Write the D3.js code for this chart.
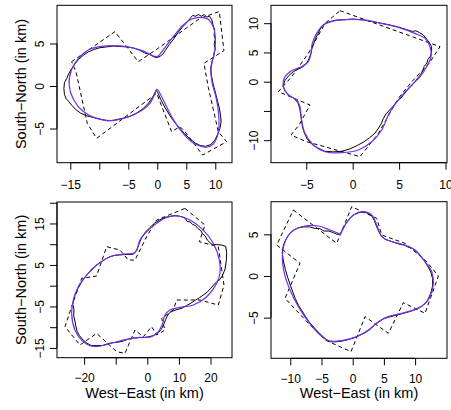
<!DOCTYPE html>
<meta charset="utf-8">
<script src="https://d3js.org/d3.v7.min.js"></script>
<style>
  body { margin: 0; background: #fff; }
  svg text { font-family: 'Liberation Sans', Arial, sans-serif; fill: #000; }
  .tick text { font-size: 12px; }
  .lab { font-size: 14.5px; }
  .domain, .tick line { stroke: #000; }
</style>
<body>
<div id="chart"></div>
<script>

// panel 1 (top left)
var p1Smooth = [[1.03,4.24],[2.76,5.8],[4.48,7.18],[5.92,7.88],[7.36,8.08],[8.8,7.84],[9.66,6.98],[10.0,5.8],[9.94,4.24],[9.54,3.06],[9.25,1.88],[9.48,0.31],[10.1,-1.25],[10.57,-3.2],[10.63,-4.8],[10.34,-5.96],[9.66,-6.82],[8.5,-7.2],[7.36,-7.06],[5.9,-6.55],[4.2,-5.37],[2.47,-3.6],[1.03,-1.65],[0.17,-0.55],[-0.1,-0.4],[-0.4,-0.86],[-1.26,-2.04],[-3.0,-3.0],[-5.3,-3.7],[-7.9,-4.08],[-10.5,-3.8],[-12.76,-3.0],[-14.4,-1.65],[-15.2,0.12],[-14.8,1.88],[-13.6,3.25],[-11.9,4.24],[-9.9,4.63],[-7.6,4.75],[-5.3,4.63],[-3.0,4.24],[-1.26,3.73],[-0.4,3.45],[0.17,3.53],[0.57,3.84]];
var p1Raw = [[0.5,3.5],[0,3.35],[-0.5,3.4],[-1.3,3.7],[-2.2,3.9],[-3.0,4.2],[-4.0,4.45],[-5.3,4.6],[-6.5,4.65],[-7.6,4.7],[-8.7,4.6],[-9.9,4.5],[-10.9,4.3],[-11.9,4.0],[-12.8,3.6],[-13.6,3.1],[-14.2,2.6],[-14.8,2.0],[-15.3,1.4],[-15.6,0.9],[-16.0,0.4],[-16.1,-0.3],[-16.0,-1.0],[-15.7,-1.5],[-15.3,-1.8],[-14.7,-2.3],[-14.0,-2.8],[-13.2,-3.2],[-12.2,-3.5],[-11.0,-3.7],[-9.8,-3.9],[-8.5,-4.1],[-7.3,-4.0],[-6.0,-3.8],[-4.8,-3.6],[-3.6,-3.2],[-2.5,-2.7],[-1.5,-2.0],[-0.7,-1.2],[-0.2,-0.5],[0.1,-0.8],[0.6,-1.6],[1.3,-2.5],[2.1,-3.4],[2.9,-4.2],[3.8,-4.9],[4.7,-5.6],[5.6,-6.2],[6.5,-6.7],[7.4,-7.0],[8.3,-7.1],[9.2,-6.9],[9.9,-6.4],[10.4,-5.7],[10.8,-5.0],[11.0,-4.2],[10.9,-3.4],[10.7,-2.6],[10.4,-1.8],[10.1,-1.0],[9.8,-0.2],[9.5,0.6],[9.3,1.4],[9.2,2.1],[9.4,2.8],[9.7,3.4],[9.8,3.9],[10.0,4.4],[9.8,4.9],[10.0,5.5],[9.8,6.0],[9.9,6.6],[9.6,7.2],[9.4,7.8],[9.0,8.2],[8.5,8.1],[8.1,8.4],[7.6,8.2],[7.1,8.4],[6.6,8.2],[6.1,8.3],[5.6,7.9],[5.0,7.4],[4.3,6.9],[3.6,6.3],[2.9,5.6],[2.1,4.9],[1.4,4.2],[0.9,3.7]];
var p1Dash = [[-14.77,2.86],[-7.30,6.39],[-3.28,2.86],[-0.11,4.31],[7.36,7.96],[10.69,8.75],[11.49,4.16],[8.05,2.67],[8.79,-0.16],[10.52,-5.37],[11.95,-6.55],[7.82,-8.12],[4.77,-5.37],[3.91,-4.78],[2.47,-5.37],[-0.11,-0.86],[-10.46,-6.16],[-12.07,-4.39],[-14.02,1.69]];
var p1XTicks = [-15, -10, -5, 0, 5, 10];
var p1XLabels = ["\u221215", "", "\u22125", "0", "5", "10"];
var p1YTicks = [-5, 0, 5];
var p1YLabels = ["\u22125", "0", "5"];

// panel 2 (top right)
var p2Smooth = [[-1.9,10.43],[-0.1,10.66],[1.33,10.54],[3.1,9.97],[4.92,9.29],[6.7,8.26],[7.8,7.4],[8.33,5.98],[8.44,4.27],[7.97,2.56],[7.26,0.85],[6.18,-0.85],[5.21,-2.56],[4.38,-4.27],[3.84,-5.7],[3.13,-8.26],[2.05,-10.26],[0.61,-11.68],[-1.19,-12.14],[-2.98,-11.97],[-4.24,-10.83],[-5.14,-8.83],[-5.5,-6.55],[-5.68,-4.27],[-6.03,-3.13],[-6.93,-2.28],[-7.47,-0.85],[-7.29,0.85],[-6.57,1.88],[-5.5,2.56],[-4.78,3.42],[-4.49,4.84],[-4.35,6.55],[-3.88,8.26],[-3.16,9.69]];
var p2Raw = [[-3.2,9.7],[-2.6,10.2],[-1.9,10.5],[-1.0,10.6],[0,10.7],[1.0,10.6],[2.0,10.3],[3.0,10.0],[4.0,9.7],[5.0,9.3],[5.8,8.9],[6.4,8.6],[6.8,8.7],[7.2,8.4],[7.6,8.0],[7.9,7.4],[8.2,6.8],[8.5,6.0],[8.5,5.2],[8.4,4.4],[8.1,3.8],[8.0,3.2],[7.7,2.6],[7.6,2.0],[7.3,1.2],[7.0,0.6],[6.7,0.0],[6.4,-0.6],[6.1,-1.1],[5.8,-1.6],[5.5,-2.2],[5.2,-2.8],[4.9,-3.1],[4.6,-3.7],[4.3,-4.3],[4.0,-4.8],[3.6,-5.5],[3.3,-6.3],[3.1,-7.1],[2.8,-7.9],[2.4,-8.8],[1.8,-9.6],[1.2,-10.3],[0.5,-10.9],[-0.3,-11.5],[-1.2,-11.9],[-2.1,-12.0],[-3.0,-11.9],[-3.8,-11.3],[-4.4,-10.7],[-4.9,-9.8],[-5.2,-8.8],[-5.4,-7.8],[-5.5,-6.7],[-5.6,-5.6],[-5.7,-4.6],[-5.9,-3.6],[-6.3,-2.9],[-6.8,-2.4],[-7.3,-1.6],[-7.5,-0.7],[-7.3,0.2],[-6.9,1.0],[-6.4,1.7],[-5.8,2.2],[-5.3,2.6],[-4.9,3.3],[-4.7,4.0],[-4.5,4.8],[-4.4,5.6],[-4.2,6.5],[-4.0,7.4],[-3.7,8.3],[-3.5,9.0]];
var p2Dash = [[-1.36,12.14],[9.41,5.98],[8.23,3.13],[6.36,0],[4.92,-2.85],[2.77,-8.83],[0.79,-12.82],[-4.96,-10.26],[-6.65,-9.12],[-5.78,-7.41],[-4.60,-3.99],[-8.01,-1.71],[-6.57,0.85],[-4.78,4.84],[-2.98,9.97]];
var p2XTicks = [-5, 0, 5, 10];
var p2XLabels = ["\u22125", "0", "5", "10"];
var p2YTicks = [-10, -5, 0, 5, 10];
var p2YLabels = ["\u221210", "", "0", "5", "10"];

// panel 3 (bottom left)
var p3Smooth = [[9.81,16.79],[13.5,15.82],[17.72,13.41],[20.9,10.2],[22.8,6.18],[23.0,2.97],[21.9,0.56],[18.8,-2.65],[14.56,-4.66],[10.34,-5.22],[7.17,-5.86],[5.59,-7.07],[4.85,-9.08],[3.48,-11.08],[1.37,-12.29],[-2.32,-12.45],[-6.54,-12.93],[-10.76,-13.73],[-14.98,-14.54],[-18.14,-14.46],[-20.8,-13.1],[-22.9,-10.68],[-23.95,-6.67],[-23.4,-3.45],[-21.84,-0.24],[-19.2,2.57],[-16.03,4.98],[-11.8,6.99],[-7.6,7.63],[-4.43,7.79],[-3.38,8.59],[-2.32,11.0],[-0.21,13.0],[2.95,15.02],[6.12,16.47]];
var p3Raw = [[9.8,16.8],[11.0,16.6],[12.0,16.2],[12.6,15.5],[13.5,15.4],[14.3,14.8],[15.2,14.5],[16.0,13.8],[16.9,13.3],[17.5,12.5],[18.3,12.0],[19.0,11.0],[19.8,10.4],[20.5,9.9],[22.0,9.9],[23.5,9.8],[24.8,9.5],[25.1,8.0],[25.0,6.0],[24.6,4.0],[23.8,2.5],[23.0,1.5],[22.0,1.0],[21.0,0.2],[20.0,-0.7],[19.0,-1.5],[17.8,-2.2],[16.5,-2.9],[15.2,-3.5],[13.8,-4.2],[12.4,-4.8],[11.0,-5.4],[9.7,-5.7],[8.4,-6.0],[7.2,-6.4],[6.3,-7.3],[5.8,-8.2],[5.2,-9.3],[4.5,-10.4],[3.5,-11.3],[2.0,-12.0],[0.5,-12.3],[-1.0,-12.5],[-2.5,-12.5],[-4.0,-12.6],[-5.8,-12.8],[-7.5,-13.3],[-9.0,-13.6],[-10.8,-13.7],[-12.5,-14.0],[-14.2,-14.4],[-16.0,-14.4],[-17.8,-14.4],[-19.2,-13.8],[-20.3,-13.1],[-21.5,-12.0],[-22.2,-11.0],[-22.6,-9.8],[-22.9,-8.5],[-23.3,-7.2],[-23.2,-5.8],[-23.6,-4.5],[-23.3,-3.2],[-22.8,-2.0],[-22.0,-0.7],[-21.0,0.6],[-20.0,1.8],[-18.8,2.9],[-17.5,3.8],[-16.2,4.9],[-14.8,5.6],[-13.3,6.4],[-11.8,7.0],[-10.3,7.3],[-8.8,7.4],[-7.3,7.5],[-5.8,7.5],[-4.4,7.6],[-3.4,8.4],[-2.7,9.9],[-1.8,11.6],[-0.6,12.9],[0.8,14.0],[2.2,15.0],[3.8,15.8],[5.4,16.4],[7.2,16.7],[8.6,16.9]];
var p3Dash = [[11.92,18.63],[18.25,14.62],[16.46,10.6],[22.47,9.4],[24.26,0.16],[22.47,-4.66],[16.67,-3.45],[9.28,-3.45],[8.23,-5.86],[4.54,-7.87],[5.59,-10.68],[2.95,-11.89],[1.37,-9.88],[-1.27,-12.29],[-3.9,-10.68],[-7.07,-16.3],[-9.7,-15.9],[-16.03,-11.49],[-21.3,-14.3],[-26.05,-9.88],[-23.95,-5.06],[-20.78,1.77],[-16.03,2.33],[-12.87,9.4],[-8.65,8.59],[-6.01,6.18],[-3.9,6.18],[-0.21,11.81],[2.95,15.82]];
var p3XTicks = [-20, -10, 0, 10, 20];
var p3XLabels = ["\u221220", "", "0", "10", "20"];
var p3YTicks = [-15, -10, -5, 0, 5, 10, 15, 20];
var p3YLabels = ["\u221215", "", "\u22125", "", "5", "", "15", ""];

// panel 4 (bottom right)
var p4Smooth = [[-2.3,5.12],[-2.03,5.0],[-1.7,5.5],[-1.23,6.12],[0.11,7.32],[1.71,7.72],[3.04,7.32],[3.85,6.12],[4.65,4.72],[6.25,4.12],[8.39,3.72],[9.99,3.12],[11.59,1.72],[12.66,0.52],[12.93,-0.88],[12.39,-2.48],[11.32,-3.48],[9.99,-4.0],[7.85,-4.48],[5.72,-4.88],[4.11,-5.48],[2.51,-6.48],[0.64,-7.28],[-1.76,-7.76],[-3.9,-7.76],[-5.5,-6.88],[-7.1,-5.48],[-8.7,-3.68],[-10.04,-1.68],[-10.95,0.32],[-11.27,2.32],[-10.84,4.12],[-9.78,5.32],[-7.64,6.0],[-5.5,6.0],[-3.63,5.52]];
var p4Raw = [[-2.0,5.0],[-1.5,5.7],[-1.0,6.4],[-0.4,7.0],[0.3,7.4],[1.0,7.6],[1.8,7.7],[2.5,7.5],[3.1,7.2],[3.5,6.6],[3.8,6.0],[4.2,5.3],[4.6,4.8],[5.2,4.4],[6.0,4.2],[6.8,4.0],[7.6,3.8],[8.3,3.7],[8.8,3.5],[9.6,3.3],[10.2,2.9],[10.8,2.5],[11.4,1.9],[12.0,1.2],[12.5,0.5],[12.8,-0.3],[12.8,-1.2],[12.5,-2.1],[12.0,-2.9],[11.3,-3.5],[10.5,-3.9],[9.8,-4.1],[9.0,-4.3],[8.0,-4.5],[7.0,-4.7],[6.0,-4.9],[5.0,-5.1],[4.2,-5.5],[3.5,-5.9],[2.8,-6.4],[2.0,-6.8],[1.2,-7.1],[0.3,-7.4],[-0.6,-7.6],[-1.6,-7.8],[-2.6,-7.9],[-3.5,-7.9],[-4.3,-7.6],[-5.0,-7.1],[-5.7,-6.6],[-6.4,-6.0],[-7.0,-5.5],[-7.6,-4.8],[-8.2,-4.1],[-8.7,-3.5],[-9.2,-2.7],[-9.6,-1.9],[-10.0,-1.1],[-10.4,-0.2],[-10.8,0.8],[-11.1,1.8],[-11.3,2.8],[-11.1,3.7],[-10.7,4.4],[-10.2,5.0],[-9.5,5.5],[-8.7,5.8],[-7.8,5.9],[-6.9,5.9],[-6.0,5.7],[-5.3,5.7],[-4.6,5.4],[-3.8,5.4],[-3.1,5.2],[-2.5,5.0]];
var p4Dash = [[-9.51,7.92],[-2.56,3.92],[-0.16,8.32],[3.85,6.92],[4.65,4.92],[8.39,3.92],[11.86,1.72],[13.73,0],[11.59,-4.48],[8.12,-3.2],[5.72,-6.88],[1.98,-4.88],[-0.27,-9.08],[-4.43,-7.68],[-7.1,-5.68],[-10.84,-2.68],[-8.44,1.52],[-12.18,3.72]];
var p4XTicks = [-10, -5, 0, 5, 10];
var p4XLabels = ["\u221210", "\u22125", "0", "5", "10"];
var p4YTicks = [-5, 0, 5];
var p4YLabels = ["\u22125", "0", "5"];

var xTitle = "West\u2212East (in km)";
var yTitle = "South\u2212North (in km)";

// plot boxes in px: left, top, right, bottom ; visible data range of each box
var panels = [
  {box: [57, 5.3, 232, 162.7], xd: [-17.29, 12.88], yd: [-9.02, 9.49],
   xt: p1XTicks, xl: p1XLabels, yt: p1YTicks, yl: p1YLabels,
   raw: p1Raw, smooth: p1Smooth, dash: p1Dash, xlab: false, ylab: true, pad: 11},
  {box: [271, 5.3, 447, 162.7], xd: [-8.80, 10.16], yd: [-13.85, 13.06],
   xt: p2XTicks, xl: p2XLabels, yt: p2YTicks, yl: p2YLabels,
   raw: p2Raw, smooth: p2Smooth, dash: p2Dash, xlab: false, ylab: false, pad: 11},
  {box: [57, 202, 232, 357.7], xd: [-28.58, 26.8], yd: [-17.35, 20.17],
   xt: p3XTicks, xl: p3XLabels, yt: p3YTicks, yl: p3YLabels,
   raw: p3Raw, smooth: p3Smooth, dash: p3Dash, xlab: true, ylab: true, pad: 9},
  {box: [271, 201.7, 447, 358.3], xd: [-13.09, 15.11], yd: [-9.88, 8.92],
   xt: p4XTicks, xl: p4XLabels, yt: p4YTicks, yl: p4YLabels,
   raw: p4Raw, smooth: p4Smooth, dash: p4Dash, xlab: true, ylab: false, pad: 9}
];

var svg = d3.select("#chart")
  .append("svg")
    .attr("width", 451)
    .attr("height", 410);

panels.forEach(function(p) {
  var L = p.box[0], T = p.box[1], R = p.box[2], B = p.box[3];
  var x = d3.scaleLinear().domain(p.xd).range([L, R]);
  var y = d3.scaleLinear().domain(p.yd).range([B, T]);

  var line = d3.line()
    .x(function(d) { return x(d[0]); })
    .y(function(d) { return y(d[1]); });

  svg.append("path")
    .attr("d", line.curve(d3.curveLinearClosed)(p.dash))
    .attr("fill", "none")
    .attr("stroke", "#000")
    .attr("stroke-width", 1)
    .attr("stroke-dasharray", "4,3");

  svg.append("path")
    .attr("d", line.curve(d3.curveLinearClosed)(p.raw))
    .attr("fill", "none")
    .attr("stroke", "#000")
    .attr("stroke-width", 1);

  svg.append("path")
    .attr("d", line.curve(d3.curveCatmullRomClosed.alpha(0.5))(p.smooth))
    .attr("fill", "none")
    .attr("stroke", "#7030e8")
    .attr("stroke-width", 1.2);

  // box
  svg.append("rect")
    .attr("x", L).attr("y", T)
    .attr("width", R - L).attr("height", B - T)
    .attr("fill", "none").attr("stroke", "#000");

  // x axis
  var xg = svg.append("g")
    .attr("transform", "translate(0," + B + ")")
    .call(d3.axisBottom(x).tickValues(p.xt).tickSize(7).tickPadding(p.pad).tickSizeOuter(0)
      .tickFormat(function(d, i) { return p.xl[i]; }));
  xg.attr("font-size", null).attr("font-family", null);
  xg.select(".domain").attr("d", "M" + x(p.xt[0]) + ",0H" + x(p.xt[p.xt.length - 1]));

  // y axis, labels turned like R
  var yg = svg.append("g")
    .attr("transform", "translate(" + L + ",0)")
    .call(d3.axisLeft(y).tickValues(p.yt).tickSize(7).tickSizeOuter(0)
      .tickFormat(function(d, i) { return p.yl[i]; }));
  yg.attr("font-size", null).attr("font-family", null);
  yg.select(".domain").attr("d", "M0," + y(p.yt[0]) + "V" + y(p.yt[p.yt.length - 1]));
  yg.selectAll(".tick text")
    .attr("x", 0).attr("dy", null)
    .attr("text-anchor", "middle")
    .attr("transform", "translate(-13,0) rotate(-90)");

  if (p.xlab) {
    svg.append("text").attr("class", "lab")
      .attr("x", (L + R) / 2).attr("y", 398)
      .attr("text-anchor", "middle")
      .text(xTitle);
  }
  if (p.ylab) {
    svg.append("text").attr("class", "lab")
      .attr("text-anchor", "middle")
      .attr("transform", "translate(26," + (T + B) / 2 + ") rotate(-90)")
      .text(yTitle);
  }
});

</script>
</body>
